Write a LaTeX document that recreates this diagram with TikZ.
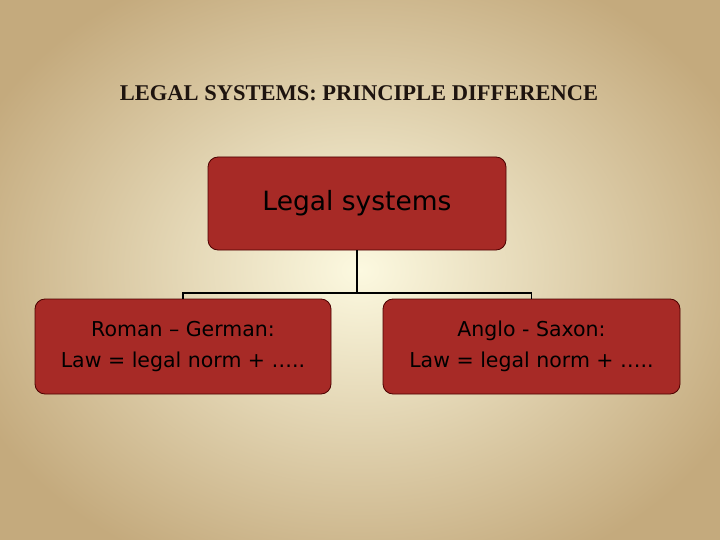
\documentclass[tikz,border=0pt]{standalone}
\usepackage{fontspec}
\setmainfont{Liberation Serif}
\newfontfamily\boxfont{DejaVu Sans}
\begin{document}
\begin{tikzpicture}[x=1pt,y=-1pt,
  rbox/.style={draw=black!70!red, line width=0.8pt, fill={rgb,255:red,167;green,42;blue,38}, rounded corners=10pt, align=center, font=\boxfont, text=black, inner sep=0pt},
  conn/.style={draw=black, line width=1.2pt}]
\useasboundingbox (0,0) rectangle (720,540);
\begin{scope}
\clip (0,0) rectangle (720,540);
\shade[inner color={rgb,255:red,252;green,249;blue,224}, outer color={rgb,255:red,196;green,170;blue,125}] (-60,-60) rectangle (780,600);
\end{scope}
\node[text={rgb,255:red,30;green,20;blue,15}] (title) at (359,93) {\fontsize{22.5}{26}\selectfont\bfseries LEGAL SYSTEMS: PRINCIPLE DIFFERENCE};
\node[rbox, minimum width=298pt, minimum height=93pt, font=\boxfont\fontsize{26.5}{30}\selectfont] (top) at (357,203.5) {Legal systems};
\node[rbox, minimum width=296pt, minimum height=95pt, font=\boxfont\fontsize{20.5}{31}\selectfont] (left) at (183,346.5) {Roman – German:\\Law = legal norm + …..};
\node[rbox, minimum width=297pt, minimum height=95pt, font=\boxfont\fontsize{20.5}{31}\selectfont] (right) at (531.5,346.5) {Anglo - Saxon:\\Law = legal norm + …..};
\coordinate (mid) at (357,293);
\draw[conn] (top.south) -- (mid);
\draw[conn] (left.north) -- (183,293) -- (mid) -- (531.5,293) -- (right.north);
\end{tikzpicture}
\end{document}
